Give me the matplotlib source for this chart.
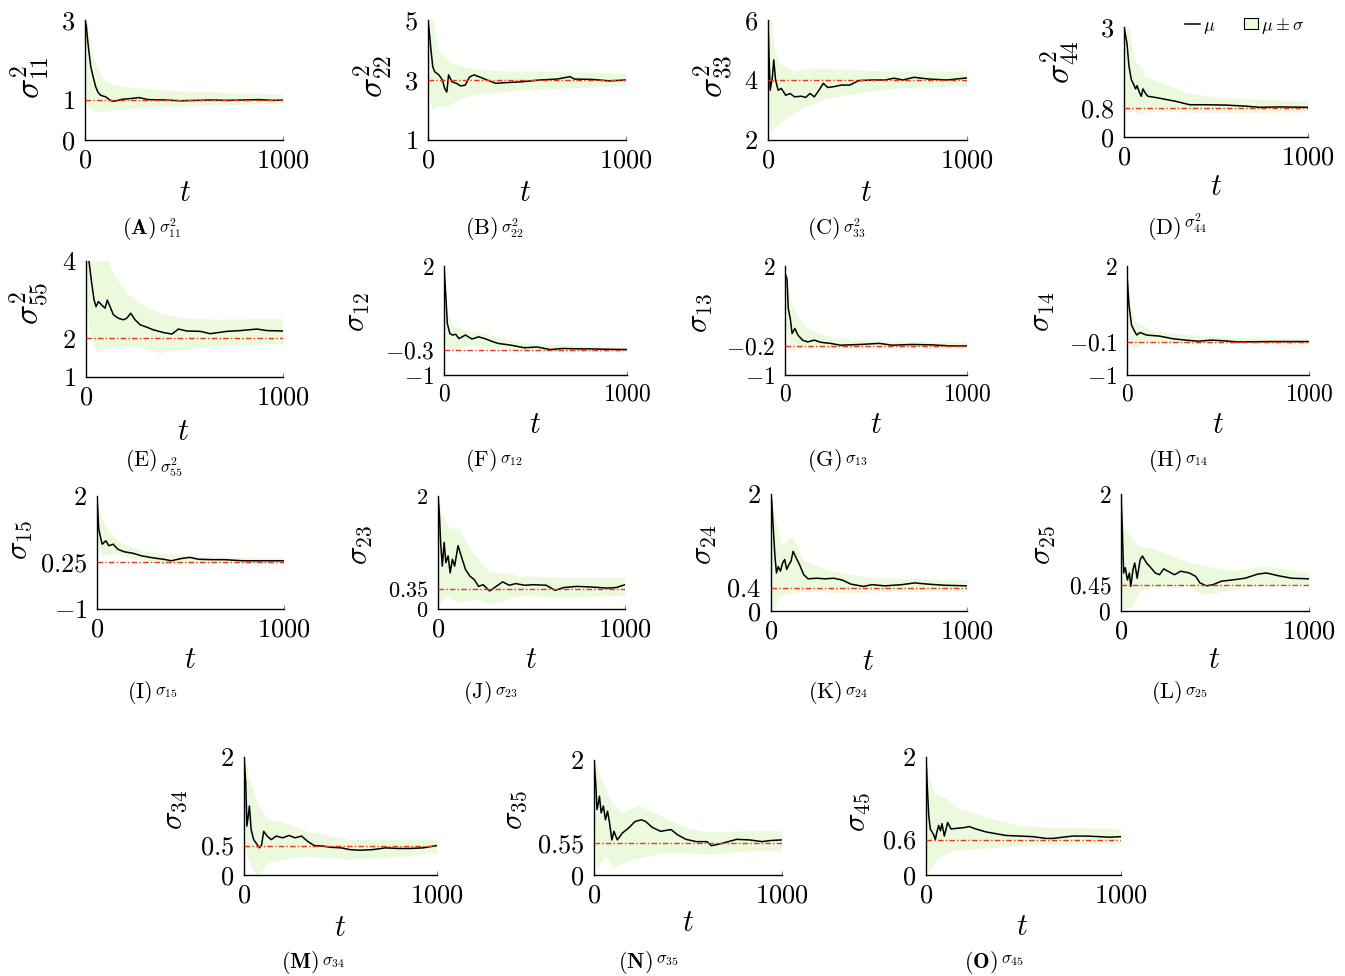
import numpy as np
import matplotlib
matplotlib.use('Agg')
import matplotlib.pyplot as plt
from matplotlib.lines import Line2D
from matplotlib.patches import Patch
from matplotlib.ticker import FixedLocator, FixedFormatter

plt.rcParams['mathtext.fontset'] = 'cm'
plt.rcParams['font.family'] = 'serif'
plt.rcParams['font.serif'] = ['cmr10', 'DejaVu Serif']
plt.rcParams['axes.formatter.use_mathtext'] = True

# ---------------- data ----------------
A_T = [0, 7, 13, 20, 29, 40, 54, 65, 79, 90, 104, 120, 137, 160, 188, 220, 272, 320, 406, 480, 560, 640, 720, 800, 880, 950, 1000]
A_MU = [3.0, 2.84, 2.51, 2.2, 1.84, 1.6, 1.33, 1.2, 1.12, 1.1, 1.08, 1.02, 0.97, 0.98, 1.02, 1.03, 1.06, 1.01, 1.0, 0.98, 0.99, 1.0, 0.99, 1.0, 1.01, 0.99, 1.0]
A_HT = [0, 10, 20, 40, 62, 80, 104, 140, 240, 400, 600, 800, 1000]
A_HI = [3.5, 3.0, 2.7, 2.1, 1.84, 1.6, 1.47, 1.38, 1.3, 1.24, 1.2, 1.16, 1.13]
A_LT = [0, 5, 20, 40, 62, 100, 137, 240, 400, 600, 800, 1000]
A_LO = [1.3, 1.0, 0.82, 0.74, 0.71, 0.7, 0.74, 0.78, 0.82, 0.86, 0.88, 0.9]

B_T = [0, 7, 15, 24, 33, 55, 73, 84, 95, 104, 121, 143, 166, 188, 210, 232, 265, 298, 342, 386, 475, 563, 651, 717, 740, 828, 916, 1000]
B_MU = [5.0, 4.57, 4.0, 3.45, 3.28, 3.17, 3.0, 2.72, 2.6, 3.17, 2.94, 2.89, 2.8, 2.83, 3.1, 3.17, 3.09, 3.0, 2.89, 2.91, 2.94, 3.0, 3.03, 3.11, 3.03, 3.02, 2.97, 3.0]
B_HT = [0, 25, 55, 121, 210, 386, 600, 1000]
B_HI = [5.5, 5.0, 4.0, 3.56, 3.39, 3.28, 3.28, 3.2]
B_LT = [0, 7, 22, 55, 100, 166, 276, 400, 600, 1000]
B_LO = [3.0, 2.44, 1.99, 2.1, 2.1, 2.38, 2.55, 2.6, 2.69, 2.8]

C_T = [0, 5, 11, 22, 29, 38, 51, 67, 89, 111, 133, 167, 189, 211, 233, 256, 278, 300, 333, 367, 411, 456, 522, 589, 633, 678, 733, 811, 900, 1000]
C_MU = [6.0, 4.8, 3.66, 4.1, 4.67, 4.0, 3.66, 3.72, 3.49, 3.55, 3.44, 3.46, 3.42, 3.55, 3.44, 3.66, 3.89, 3.75, 3.78, 3.83, 3.83, 3.98, 4.0, 4.0, 4.06, 4.0, 4.09, 4.03, 4.0, 4.07]
C_HT = [0, 20, 33, 67, 144, 233, 400, 600, 1000]
C_HI = [6.5, 6.2, 5.0, 4.5, 4.28, 4.39, 4.34, 4.28, 4.28]
C_LT = [0, 11, 44, 100, 189, 300, 450, 650, 1000]
C_LO = [3.5, 2.2, 2.43, 2.76, 3.1, 3.38, 3.55, 3.72, 3.8]

D_T = [0, 16, 27, 40, 53, 63, 71, 85, 94, 103, 118, 130, 158, 212, 284, 357, 447, 556, 665, 737, 846, 1000]
D_MU = [3.0, 2.56, 1.93, 1.56, 1.43, 1.31, 1.4, 1.2, 1.11, 1.31, 1.18, 1.11, 1.09, 1.04, 0.97, 0.88, 0.88, 0.87, 0.84, 0.81, 0.82, 0.81]
D_HT = [0, 30, 49, 67, 95, 103, 115, 158, 248, 339, 520, 1000]
D_HI = [3.5, 3.0, 2.38, 2.02, 1.9, 1.84, 1.65, 1.56, 1.38, 1.2, 1.06, 0.97]
D_LT = [0, 13, 31, 58, 85, 158, 400, 700, 1000]
D_LO = [1.5, 0.75, 0.66, 0.7, 0.61, 0.7, 0.66, 0.66, 0.67]

E_T = [0, 15, 29, 41, 51, 63, 80, 97, 108, 122, 139, 164, 190, 207, 227, 249, 275, 308, 342, 393, 436, 469, 512, 580, 631, 715, 783, 868, 919, 1000]
E_MU = [4.3, 4.0, 3.42, 2.99, 2.82, 2.95, 2.86, 2.78, 2.99, 2.82, 2.61, 2.52, 2.48, 2.52, 2.65, 2.48, 2.35, 2.29, 2.22, 2.15, 2.11, 2.24, 2.19, 2.18, 2.12, 2.18, 2.2, 2.24, 2.2, 2.19]
E_HT = [0, 105, 139, 207, 275, 376, 495, 664, 1000]
E_HI = [5.0, 4.2, 3.67, 3.16, 2.91, 2.65, 2.52, 2.48, 2.5]
E_LT = [0, 20, 54, 105, 241, 376, 430, 580, 700, 1000]
E_LO = [3.0, 2.22, 1.62, 1.75, 1.79, 1.62, 1.66, 1.75, 1.79, 1.86]

F_T = [0, 11, 18, 32, 46, 64, 82, 117, 153, 189, 224, 260, 295, 367, 438, 509, 580, 651, 722, 794, 865, 1000]
F_MU = [2.0, 1.1, 0.42, 0.14, 0.1, 0.12, 0.0, 0.1, -0.01, 0.05, 0.0, -0.07, -0.13, -0.18, -0.25, -0.23, -0.3, -0.27, -0.28, -0.28, -0.29, -0.3]
F_HT = [0, 18, 46, 117, 224, 438, 794, 1000]
F_HI = [2.0, 0.74, 0.37, 0.23, 0.12, -0.13, -0.22, -0.25]
F_LT = [0, 11, 46, 117, 260, 438, 794, 1000]
F_LO = [1.0, -0.18, -0.36, -0.22, -0.22, -0.36, -0.36, -0.36]

G_T = [0, 11, 18, 29, 39, 54, 71, 96, 125, 161, 196, 250, 304, 411, 518, 589, 696, 804, 911, 1000]
G_MU = [1.8, 1.65, 0.83, 0.55, 0.14, 0.28, 0.1, -0.04, -0.09, -0.04, -0.1, -0.13, -0.18, -0.16, -0.13, -0.18, -0.16, -0.17, -0.2, -0.2]
G_HT = [0, 25, 54, 125, 268, 518, 1000]
G_HI = [2.0, 1.2, 0.74, 0.28, 0.0, -0.07, -0.1]
G_LT = [0, 11, 36, 90, 268, 1000]
G_LO = [1.4, 0.19, -0.36, -0.27, -0.27, -0.27]

H_T = [0, 11, 25, 43, 54, 71, 107, 179, 250, 321, 393, 464, 536, 607, 786, 1000]
H_MU = [1.75, 0.92, 0.37, 0.19, 0.1, 0.17, 0.1, 0.07, 0.0, -0.04, -0.07, -0.04, -0.06, -0.09, -0.08, -0.08]
H_HT = [0, 18, 54, 143, 321, 607, 1000]
H_HI = [2.0, 0.92, 0.46, 0.21, 0.1, 0.02, -0.01]
H_LT = [0, 18, 36, 107, 250, 1000]
H_LO = [1.3, -0.09, -0.31, -0.09, -0.13, -0.16]

I_T = [0, 9, 19, 28, 47, 63, 87, 110, 145, 192, 239, 309, 356, 398, 450, 496, 543, 614, 684, 778, 871, 1000]
I_MU = [2.0, 1.13, 0.9, 0.72, 0.81, 0.68, 0.72, 0.59, 0.52, 0.48, 0.41, 0.35, 0.32, 0.28, 0.34, 0.37, 0.32, 0.31, 0.31, 0.28, 0.28, 0.28]
I_HT = [0, 16, 52, 122, 239, 403, 637, 1000]
I_HI = [2.0, 1.57, 1.13, 0.77, 0.54, 0.43, 0.37, 0.34]
I_LT = [0, 9, 28, 98, 239, 403, 637, 1000]
I_LO = [1.6, 0.68, 0.41, 0.46, 0.28, 0.16, 0.21, 0.21]

J_T = [0, 7, 14, 23, 33, 42, 54, 65, 77, 89, 107, 124, 147, 171, 194, 217, 241, 276, 311, 346, 381, 416, 463, 509, 579, 626, 673, 743, 813, 907, 953, 1000]
J_MU = [2.0, 1.71, 1.18, 0.76, 1.18, 0.82, 0.94, 0.64, 0.88, 0.76, 1.12, 0.94, 0.7, 0.58, 0.52, 0.4, 0.43, 0.32, 0.4, 0.48, 0.42, 0.45, 0.42, 0.43, 0.42, 0.33, 0.38, 0.4, 0.39, 0.37, 0.38, 0.43]
J_HT = [0, 16, 65, 112, 182, 276, 440, 673, 1000]
J_HI = [2.2, 1.71, 1.42, 1.42, 1.0, 0.67, 0.58, 0.55, 0.55]
J_LT = [0, 7, 42, 112, 206, 276, 440, 673, 1000]
J_LO = [1.5, 0.05, 0.23, 0.11, 0.17, 0.08, 0.23, 0.2, 0.23]

K_T = [0, 4, 11, 20, 28, 37, 48, 59, 70, 80, 91, 102, 113, 128, 146, 167, 189, 233, 276, 320, 363, 407, 472, 515, 580, 667, 733, 798, 885, 1000]
K_MU = [2.0, 1.86, 1.45, 0.94, 0.65, 0.76, 0.68, 0.82, 0.88, 0.71, 0.79, 0.85, 1.02, 0.91, 0.79, 0.62, 0.55, 0.56, 0.55, 0.56, 0.53, 0.46, 0.42, 0.45, 0.43, 0.45, 0.48, 0.46, 0.44, 0.43]
K_HT = [0, 15, 59, 113, 167, 300, 515, 1000]
K_HI = [2.2, 1.68, 1.11, 1.28, 0.85, 0.68, 0.56, 0.53]
K_LT = [0, 11, 48, 102, 189, 407, 620, 1000]
K_LO = [1.5, 0.02, 0.25, 0.3, 0.33, 0.3, 0.33, 0.33]

L_T = [0, 7, 14, 23, 34, 45, 52, 64, 73, 86, 102, 114, 136, 159, 182, 205, 227, 250, 284, 318, 364, 398, 420, 455, 489, 534, 591, 659, 727, 773, 841, 909, 1000]
L_MU = [2.0, 1.4, 0.65, 0.74, 0.53, 0.65, 0.42, 0.71, 0.82, 0.56, 0.88, 0.94, 0.82, 0.74, 0.65, 0.62, 0.72, 0.68, 0.62, 0.68, 0.65, 0.59, 0.48, 0.43, 0.45, 0.51, 0.53, 0.56, 0.63, 0.65, 0.6, 0.56, 0.55]
L_HT = [0, 23, 91, 182, 364, 591, 773, 1000]
L_HI = [2.2, 1.4, 1.11, 1.05, 0.82, 0.68, 0.76, 0.65]
L_LT = [0, 11, 57, 114, 205, 364, 430, 500, 705, 1000]
L_LO = [1.5, 0.02, 0.07, 0.36, 0.42, 0.42, 0.28, 0.3, 0.42, 0.45]

M_T = [0, 9, 15, 22, 28, 37, 50, 63, 80, 91, 102, 120, 141, 167, 200, 233, 265, 298, 330, 363, 407, 450, 504, 548, 602, 667, 733, 798, 863, 928, 1000]
M_MU = [2.0, 1.57, 0.83, 1.0, 1.17, 0.77, 0.6, 0.54, 0.46, 0.51, 0.74, 0.66, 0.6, 0.66, 0.63, 0.67, 0.63, 0.66, 0.57, 0.5, 0.49, 0.47, 0.46, 0.43, 0.42, 0.43, 0.46, 0.45, 0.45, 0.46, 0.5]
M_HT = [0, 26, 80, 124, 210, 320, 540, 1000]
M_HI = [2.2, 1.63, 1.17, 0.94, 0.89, 0.74, 0.6, 0.6]
M_LT = [0, 15, 48, 80, 124, 210, 320, 540, 760, 1000]
M_LO = [1.5, 0.37, 0.06, 0.0, 0.2, 0.26, 0.31, 0.26, 0.29, 0.37]

N_T = [0, 9, 16, 23, 29, 38, 50, 61, 72, 83, 95, 106, 124, 151, 185, 218, 252, 275, 309, 354, 410, 444, 489, 545, 601, 624, 669, 714, 759, 827, 894, 939, 1000]
N_MU = [2.0, 1.6, 1.14, 1.25, 1.37, 1.08, 1.2, 0.96, 1.11, 0.9, 0.61, 0.76, 0.61, 0.73, 0.82, 0.93, 0.96, 0.93, 0.83, 0.76, 0.79, 0.7, 0.62, 0.58, 0.58, 0.51, 0.54, 0.58, 0.62, 0.61, 0.58, 0.6, 0.61]
N_HT = [0, 27, 95, 151, 241, 376, 489, 601, 827, 1000]
N_HI = [2.2, 1.78, 1.25, 1.08, 1.2, 0.99, 0.82, 0.74, 0.76, 0.76]
N_LT = [0, 16, 61, 106, 196, 376, 489, 601, 827, 1000]
N_LO = [1.5, 0.09, 0.32, 0.12, 0.26, 0.38, 0.38, 0.35, 0.41, 0.41]

O_T = [0, 7, 14, 22, 38, 48, 55, 65, 74, 82, 94, 103, 111, 128, 154, 188, 222, 256, 308, 359, 410, 479, 547, 615, 650, 701, 752, 821, 889, 940, 1000]
O_MU = [2.0, 1.47, 1.01, 0.78, 0.69, 0.6, 0.72, 0.84, 0.75, 0.87, 0.66, 0.78, 0.89, 0.78, 0.79, 0.8, 0.82, 0.78, 0.73, 0.7, 0.67, 0.66, 0.65, 0.62, 0.62, 0.64, 0.66, 0.66, 0.65, 0.64, 0.65]
O_HT = [0, 14, 51, 103, 171, 308, 479, 650, 1000]
O_HI = [2.2, 1.64, 1.35, 1.29, 1.12, 0.98, 0.83, 0.8, 0.78]
O_LT = [0, 10, 43, 86, 137, 308, 479, 1000]
O_LO = [1.5, 0.03, 0.2, 0.32, 0.4, 0.45, 0.49, 0.53]

LETTERS = list('ABCDEFGHIJKLMNO')
SUBS = ['11', '22', '33', '44', '55', '12', '13', '14', '15', '23', '24', '25', '34', '35', '45']
YTICKS = [[0, 1, 3], [1, 3, 5], [2, 4, 6], [0, 0.8, 3], [1, 2, 4],
          [-1, -0.3, 2], [-1, -0.2, 2], [-1, -0.1, 2], [-1, 0.25, 2], [0, 0.35, 2],
          [0, 0.4, 2], [0, 0.45, 2], [0, 0.5, 2], [0, 0.55, 2], [0, 0.6, 2]]
TRUTH = [1, 3, 4, 0.8, 2, -0.3, -0.2, -0.1, 0.25, 0.35, 0.4, 0.45, 0.5, 0.55, 0.6]
XTICKS = [0, 1000]

SERIES = {k: (globals()[k + '_T'], globals()[k + '_MU'], globals()[k + '_HT'], globals()[k + '_HI'],
              globals()[k + '_LT'], globals()[k + '_LO']) for k in LETTERS}

# ---------------- layout (pixels) ----------------
W, H = 1345, 976
BOX = {'A': (85, 20, 283, 140), 'B': (428, 20, 626, 140), 'C': (768, 20, 967, 140), 'D': (1124, 27, 1308, 137),
       'E': (86, 261, 283, 377), 'F': (444, 266, 627, 375), 'G': (785, 266, 967, 375), 'H': (1127, 266, 1309, 375),
       'I': (97, 496, 284, 609), 'J': (438, 496, 625, 609), 'K': (771, 494, 967, 611), 'L': (1121, 494, 1309, 611),
       'M': (244, 757, 437, 875), 'N': (594, 760, 782, 875), 'O': (926, 757, 1121, 875)}
YLAB = {'A': (30, 78), 'B': (373, 76), 'C': (714, 76), 'D': (1060, 62), 'E': (30, 303),
        'F': (358, 312), 'G': (700, 313), 'H': (1043, 312), 'I': (20, 540), 'J': (360, 545),
        'K': (705, 545), 'L': (1043, 545), 'M': (175, 810), 'N': (515, 810), 'O': (858, 812)}
TLAB = {'A': (185, 193), 'B': (525, 193), 'C': (866, 193), 'D': (1216, 187), 'E': (183, 432),
        'F': (535, 425), 'G': (876, 425), 'H': (1218, 425), 'I': (190, 660), 'J': (531, 660),
        'K': (868, 662), 'L': (1214, 660), 'M': (340, 928), 'N': (688, 923), 'O': (1022, 927)}
CAP = {'A': (156, 228, 0), 'B': (498, 228, 0), 'C': (840, 228, 0), 'D': (1181, 228, -5),
       'E': (157, 460, 7), 'F': (497, 460, 0), 'G': (842, 460, 0), 'H': (1182, 460, 0),
       'I': (152, 692, 0), 'J': (492, 692, 0), 'K': (842, 692, 0), 'L': (1182, 692, 0),
       'M': (319, 962, 0), 'N': (653, 962, -2), 'O': (998, 962, -2)}
TICKFS = {'F': 17, 'G': 17, 'H': 17, 'J': 16, 'L': 17}
BOLD = set('AMNO')

BAND = '#ebf9dd'
RED = '#f2361c'

fig = plt.figure(figsize=(W / 100, H / 100), dpi=100)


def fx(x):
    return x / W


def fy(y):
    return 1 - y / H


def fmt(v):
    if float(v).is_integer():
        return '$%d$' % v
    return '$%s$' % ('%g' % v)


for i, k in enumerate(LETTERS):
    l, t, r, b = BOX[k]
    ax = fig.add_axes([fx(l), fy(b), (r - l) / W, (b - t) / H])
    T, MU, HT, HI, LT, LO = SERIES[k]
    xs = np.concatenate([HT, LT[::-1]])
    ys = np.concatenate([HI, LO[::-1]])
    ax.fill(xs, ys, color=BAND, lw=0, zorder=1)
    ax.plot(T, MU, color='black', lw=1.1, zorder=3)
    ax.axhline(TRUTH[i], color=RED, lw=1.0, dashes=(4, 1.6, 1, 1.6), zorder=4)
    yt = YTICKS[i]
    ax.set_xlim(0, 1000)
    ax.set_ylim(yt[0], yt[-1])
    ax.yaxis.set_major_locator(FixedLocator(yt))
    ax.yaxis.set_major_formatter(FixedFormatter([fmt(v) for v in yt]))
    ax.xaxis.set_major_locator(FixedLocator(XTICKS))
    ax.xaxis.set_major_formatter(FixedFormatter([fmt(v) for v in XTICKS]))
    fs = TICKFS.get(k, 19)
    ax.tick_params(axis='x', direction='in', length=3, width=0.8, color='#888888',
                   labelsize=17 if k in 'FGH' else 19, pad=6)
    ax.tick_params(axis='y', length=0, labelsize=fs, pad=7)
    for s in ['top', 'right']:
        ax.spines[s].set_visible(False)
    for s in ['left', 'bottom']:
        ax.spines[s].set_linewidth(1.0)
    # y label
    sq = '^2' if i < 5 else ''
    xl, yl = YLAB[k]
    fig.text(fx(xl), fy(yl), r'$\sigma%s_{%s}$' % (sq, SUBS[i]), rotation=90,
             ha='center', va='center', fontsize=24 if i < 5 else 22)
    xl, yl = TLAB[k]
    fig.text(fx(xl), fy(yl), r'$t$', ha='center', va='center', fontsize=22)
    # caption
    cx, cy, dy = CAP[k]
    lab = r'$\mathbf{(%s)}$' % k if k in BOLD else r'$\mathrm{(%s)}$' % k
    fig.text(fx(cx), fy(cy), lab, ha='right', va='center', fontsize=16)
    fig.text(fx(cx + 3), fy(cy + dy), r'$\sigma%s_{%s}$' % (sq, SUBS[i]), ha='left', va='center', fontsize=12)

handles = [Line2D([0], [0], color='black', lw=1.1),
           Patch(facecolor=BAND, edgecolor='black', linewidth=0.8)]
fig.legend(handles, [r'$\mu$', r'$\mu\pm\sigma$'], loc='center', bbox_to_anchor=(fx(1245), fy(26)),
           ncol=2, frameon=False, fontsize=13, handlelength=0.8, handleheight=0.55,
           handletextpad=0.15, columnspacing=1.6, borderpad=0)

fig.savefig('out.png', dpi=100)
